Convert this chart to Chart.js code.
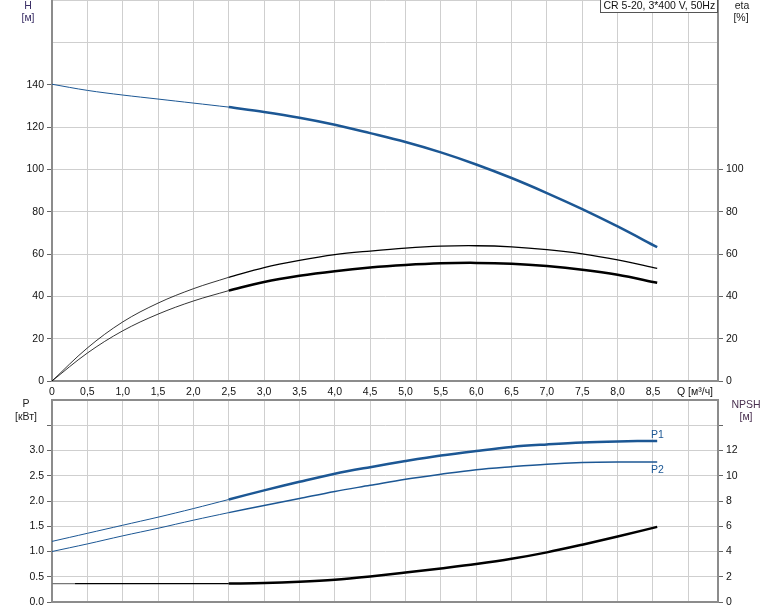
<!DOCTYPE html>
<html>
<head>
<meta charset="utf-8">
<script src="https://cdn.jsdelivr.net/npm/chart.js@4.4.1/dist/chart.umd.min.js"></script>
<style>
  body { margin: 0; background: #fff; }
  #wrap { position: relative; width: 774px; height: 611px; }
  #topBox { position: absolute; left: 0; top: 0; width: 774px; height: 398px; }
  #botBox { position: absolute; left: 0; top: 390px; width: 774px; height: 221px; }
</style>
</head>
<body>
<div id="wrap">
  <div id="topBox"><canvas id="topChart"></canvas></div>
  <div id="botBox"><canvas id="botChart"></canvas></div>
</div>
<script>
// flow points, m3/h
const flow = [0, 0.5, 1.0, 1.5, 2.0, 2.5, 3.0, 3.5, 4.0, 4.5, 5.0, 5.5, 6.0, 6.5, 7.0, 7.5, 8.0, 8.56];
const head = [140.2, 137.3, 135.1, 133.2, 131.3, 129.4, 127.1, 124.4, 121.1, 117.1, 112.9, 108.0, 102.3, 95.9, 88.8, 81.2, 73.0, 63.2];
const etaPump = [0, 15.6, 27.9, 36.8, 43.6, 49.0, 53.6, 57.0, 59.7, 61.4, 62.8, 63.7, 63.9, 63.4, 62.1, 60.1, 57.2, 53.2];
const etaTotal = [0, 13.2, 23.7, 31.6, 37.8, 42.7, 46.8, 49.7, 51.9, 53.6, 54.8, 55.6, 55.8, 55.4, 54.3, 52.6, 50.2, 46.4];
const powerP1 = [1.20, 1.36, 1.52, 1.68, 1.85, 2.03, 2.21, 2.38, 2.54, 2.67, 2.79, 2.90, 2.99, 3.07, 3.12, 3.16, 3.18, 3.19];
const powerP2 = [1.00, 1.15, 1.31, 1.46, 1.62, 1.77, 1.91, 2.05, 2.19, 2.31, 2.43, 2.53, 2.62, 2.68, 2.73, 2.76, 2.77, 2.77];
const npsh = [1.45, 1.45, 1.45, 1.45, 1.45, 1.46, 1.50, 1.60, 1.76, 2.02, 2.33, 2.66, 3.01, 3.42, 3.93, 4.54, 5.19, 5.95];

// ticks
const qTicks = [0, 0.5, 1, 1.5, 2, 2.5, 3, 3.5, 4, 4.5, 5, 5.5, 6, 6.5, 7, 7.5, 8, 8.5, 9];
const qLabels = ['0', '0,5', '1,0', '1,5', '2,0', '2,5', '3,0', '3,5', '4,0', '4,5', '5,0', '5,5', '6,0', '6,5', '7,0', '7,5', '8,0', '8,5', ''];
const hTicks = [0, 20, 40, 60, 80, 100, 120, 140, 160, 180];
const hLabels = ['0', '20', '40', '60', '80', '100', '120', '140', '', ''];
const etaLabels = ['0', '20', '40', '60', '80', '100', '', '', '', ''];
const pTicks = [0, 0.5, 1.0, 1.5, 2.0, 2.5, 3.0, 3.5, 4.0];
const pLabels = ['0.0', '0.5', '1.0', '1.5', '2.0', '2.5', '3.0', '', ''];
const npshTicks = [0, 2, 4, 6, 8, 10, 12, 14, 16];
const npshLabels = ['0', '2', '4', '6', '8', '10', '12', '', ''];

const Q_MAX = 9.42;
const SPLIT = 5; // thin part of the curves ends at Q = 2.5
const BLUE = '#1c5794';
const GRID = '#cfcfcf';
const AXIS = '#8c8c8c';
const TICK = '#666';
const FONT = '"Liberation Sans", Arial, sans-serif';
const FSIZE = 10.5;

function pts(values, from, to) {
  const out = [];
  for (let i = from; i <= to; i++) out.push({ x: flow[i], y: values[i] });
  return out;
}

function curve(values, axis, color, width, from, to, mono) {
  return {
    data: pts(values, from, to),
    yAxisID: axis,
    borderColor: color,
    borderWidth: width,
    pointRadius: 0,
    tension: 0.35,
    cubicInterpolationMode: mono ? 'monotone' : 'default',
    fill: false
  };
}

function fixedTicks(values) {
  return scale => { scale.ticks = values.map(v => ({ value: v })); };
}

function labelFrom(values, labels) {
  return v => {
    const i = values.findIndex(t => Math.abs(t - v) < 1e-6);
    return i < 0 ? '' : labels[i];
  };
}

function fit(size) {
  return scale => {
    if (scale.isHorizontal()) scale.height = size; else scale.width = size;
    scale.paddingTop = 0; scale.paddingBottom = 0;
    scale.paddingLeft = 0; scale.paddingRight = 0;
  };
}

const tickFont = { family: FONT, size: FSIZE };

function xScale(showLabels, height) {
  return {
    type: 'linear', min: 0, max: Q_MAX,
    afterBuildTicks: fixedTicks(qTicks),
    afterFit: fit(height),
    grid: { color: GRID, lineWidth: 1, drawTicks: false },
    border: { color: AXIS, width: 2 },
    ticks: {
      display: showLabels, padding: 5, color: '#111', font: tickFont,
      maxRotation: 0, autoSkip: false,
      callback: labelFrom(qTicks, qLabels)
    }
  };
}

function yScale(pos, max, values, labels, markMax, onArea, gridColor, gridWidth) {
  return {
    type: 'linear', position: pos, min: 0, max: max,
    afterBuildTicks: fixedTicks(values),
    afterFit: fit(pos === 'left' ? 52 : 56),
    grid: {
      drawOnChartArea: onArea,
      color: gridColor || GRID,
      lineWidth: gridWidth || 1,
      tickLength: 5,
      tickColor: ctx => (ctx.tick && ctx.tick.value <= markMax ? TICK : 'rgba(0,0,0,0)')
    },
    border: { color: AXIS, width: 2 },
    ticks: {
      padding: 3, color: '#111', font: tickFont, autoSkip: false,
      callback: labelFrom(values, labels)
    }
  };
}

function textPlugin(items) {
  return {
    id: 'texts',
    afterDraw(chart) {
      const ctx = chart.ctx;
      ctx.save();
      items.forEach(t => {
        if (t.box) {
          ctx.fillStyle = '#fff';
          ctx.fillRect(t.box[0], t.box[1], t.box[2], t.box[3]);
          ctx.strokeStyle = '#555';
          ctx.lineWidth = 1;
          ctx.strokeRect(t.box[0], t.box[1], t.box[2], t.box[3]);
        }
        ctx.font = FSIZE + 'px ' + FONT;
        ctx.fillStyle = t.color || '#222';
        ctx.textAlign = t.align || 'center';
        ctx.textBaseline = 'middle';
        ctx.fillText(t.text, t.x, t.y);
      });
      ctx.restore();
    }
  };
}

const topChart = new Chart(document.getElementById('topChart'), {
  type: 'line',
  data: {
    datasets: [
      curve(head, 'yH', BLUE, 1, 0, SPLIT),
      curve(head, 'yH', BLUE, 2.5, SPLIT, flow.length - 1),
      curve(etaPump, 'yEta', '#000', 0.8, 0, SPLIT),
      curve(etaPump, 'yEta', '#000', 1.3, SPLIT, flow.length - 1),
      curve(etaTotal, 'yEta', '#000', 0.8, 0, SPLIT),
      curve(etaTotal, 'yEta', '#000', 2.5, SPLIT, flow.length - 1)
    ]
  },
  options: {
    responsive: true,
    maintainAspectRatio: false,
    animation: false,
    layout: { padding: 0 },
    plugins: { legend: { display: false }, tooltip: { enabled: false } },
    scales: {
      x: xScale(true, 17),
      yH: yScale('left', 180, hTicks, hLabels, 140, true),
      yEta: yScale('right', 180, hTicks, etaLabels, 100, false)
    }
  },
  plugins: [textPlugin([
    { text: 'H', x: 28, y: 6, color: '#3b2f66' },
    { text: '[м]', x: 28, y: 18, color: '#3b2f66' },
    { text: 'eta', x: 742, y: 6 },
    { text: '[%]', x: 741, y: 18 },
    { text: 'Q [м³/ч]', x: 677, y: 392, align: 'left', color: '#111' },
    { text: 'CR 5-20, 3*400 V, 50Hz', x: 603.5, y: 6.5, align: 'left', color: '#111', box: [600.5, -1.5, 117, 14] }
  ])]
});

const npshStart = 0.33; // grey lead-in of the NPSH curve

const npshThin = curve(npsh, 'yNpsh', '#000', 1.2, 0, SPLIT, true);
npshThin.borderColor = ctx => {
  const area = ctx.chart.chartArea;
  if (!area) return '#000';
  const s = npshStart / flow[SPLIT];
  const a = area.left;
  const b = area.left + (area.right - area.left) * flow[SPLIT] / Q_MAX;
  const g = ctx.chart.ctx.createLinearGradient(a, 0, b, 0);
  g.addColorStop(0, '#777');
  g.addColorStop(s, '#777');
  g.addColorStop(Math.min(1, s + 0.001), '#000');
  g.addColorStop(1, '#000');
  return g;
};

const botChart = new Chart(document.getElementById('botChart'), {
  type: 'line',
  data: {
    datasets: [
      curve(powerP1, 'yP', BLUE, 1, 0, SPLIT),
      curve(powerP1, 'yP', BLUE, 2.5, SPLIT, flow.length - 1),
      curve(powerP2, 'yP', BLUE, 1, 0, SPLIT),
      curve(powerP2, 'yP', BLUE, 1.5, SPLIT, flow.length - 1),
      npshThin,
      curve(npsh, 'yNpsh', '#000', 2.5, SPLIT, flow.length - 1, true)
    ]
  },
  options: {
    responsive: true,
    maintainAspectRatio: false,
    animation: false,
    layout: { padding: { top: 10, bottom: 9, left: 0, right: 0 } },
    plugins: { legend: { display: false }, tooltip: { enabled: false } },
    scales: {
      x: xScale(false, 0),
      yP: yScale('left', 4, pTicks, pLabels, 3.5, true,
        ctx => (ctx.tick && ctx.tick.value >= 4 ? AXIS : GRID),
        ctx => (ctx.tick && ctx.tick.value >= 4 ? 2 : 1)),
      yNpsh: yScale('right', 16, npshTicks, npshLabels, 14, false)
    }
  },
  plugins: [textPlugin([
    { text: 'P', x: 26, y: 14 },
    { text: '[кВт]', x: 26, y: 27 },
    { text: 'NPSH', x: 746, y: 15, color: '#4a3050' },
    { text: '[м]', x: 746, y: 27, color: '#4a3050' },
    { text: 'P1', x: 651, y: 45, align: 'left', color: BLUE },
    { text: 'P2', x: 651, y: 80, align: 'left', color: BLUE }
  ])]
});
</script>
</body>
</html>
